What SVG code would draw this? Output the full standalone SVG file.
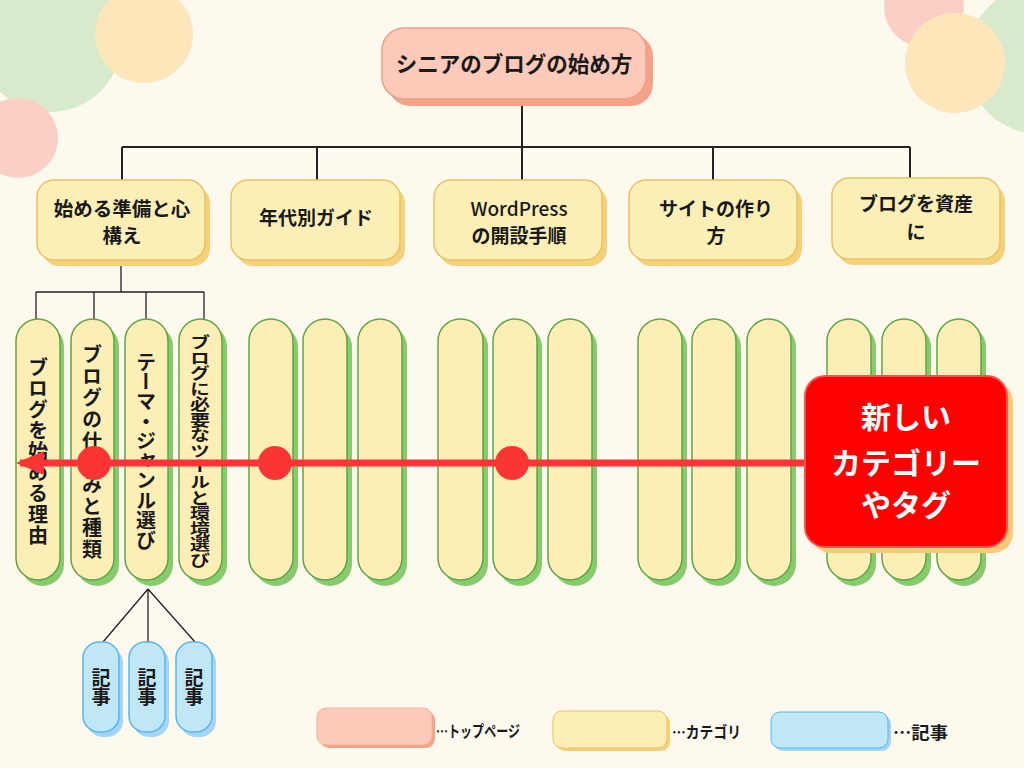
<svg xmlns="http://www.w3.org/2000/svg" width="1024" height="768" viewBox="0 0 1024 768">
<defs>
<style>
.t{font-family:"Noto Sans CJK JP","Noto Sans",sans-serif;font-weight:700;fill:#1a1a1a;}
.root{fill:#fdc9b8;stroke:#f0a088;stroke-width:1.5;}
.roots{fill:#f4a387;}
.cat{fill:#fcefb6;stroke:#e8c264;stroke-width:1.5;}
.cats{fill:#f6d17a;}
.pill{fill:#fdeeb6;stroke:#5ea645;stroke-width:1.5;}
.pills{fill:#86cc6c;}
.art{fill:#bfe7f5;stroke:#5ab4ee;stroke-width:1.5;}
.arts{fill:#a2d5f6;}
.ln{stroke:#222;stroke-width:2;fill:none;}
.ln2{stroke:#222;stroke-width:1.3;fill:none;}
.vt{writing-mode:vertical-rl;font-size:20px;}
</style>
<marker id="arr" markerUnits="userSpaceOnUse" markerWidth="30" markerHeight="30" refX="24" refY="15" orient="auto" viewBox="0 0 30 30">
<path d="M28,15 L0,3 L0,27 Z" fill="#fb3535"/>
</marker>
</defs>
<rect width="1024" height="768" fill="#fdf9ef"/>
<g id="decor" opacity="0.72">
<circle cx="50" cy="40" r="72" fill="#c9e6bf"/>
<circle cx="144" cy="34" r="49" fill="#fce0a6"/>
<circle cx="18" cy="138" r="40" fill="#fcc0b4"/>
<circle cx="924" cy="7" r="40" fill="#fcc0b4"/>
<circle cx="1040" cy="60" r="74" fill="#c9e6bf"/>
<circle cx="955" cy="63" r="50" fill="#fce0a6"/>
</g>

<g id="connectors">
<path class="ln" d="M522,99 V147 M122,147 H910 M122,147 V180 M317,147 V180 M522,147 V180 M713,147 V180 M910,147 V180"/>
<path class="ln2" d="M121,262 V292 M36,292 H204 M36,292 V320 M94,292 V320 M146,292 V320 M204,292 V320"/>
<path class="ln2" d="M148,589 L103,642 M148,589 L148,642 M148,589 L195,642"/>
</g>

<g id="root">
<rect class="roots" x="388" y="34" width="265" height="72" rx="22"/>
<rect class="root" x="382" y="28" width="264" height="71" rx="22"/>
<text class="t" x="514" y="72" font-size="21.5" text-anchor="middle">シニアのブログの始め方</text>
</g>

<g id="cat1">
<rect class="cats" x="42" y="186" width="168" height="80" rx="17"/>
<rect class="cat" x="37" y="180" width="168" height="80" rx="17"/>
<text class="t" x="122" y="216" font-size="19.5" text-anchor="middle">始める準備と心</text>
<text class="t" x="122" y="243" font-size="19.5" text-anchor="middle">構え</text>
</g>
<g id="cat2">
<rect class="cats" x="236" y="186" width="169" height="80" rx="17"/>
<rect class="cat" x="231" y="180" width="169" height="80" rx="17"/>
<text class="t" x="316" y="225" font-size="19" text-anchor="middle">年代別ガイド</text>
</g>
<g id="cat3">
<rect class="cats" x="439" y="186" width="168" height="80" rx="17"/>
<rect class="cat" x="434" y="180" width="168" height="80" rx="17"/>
<text class="t" x="519" y="216" font-size="19" text-anchor="middle" style="font-weight:500">WordPress</text>
<text class="t" x="519" y="243" font-size="19" text-anchor="middle">の開設手順</text>
</g>
<g id="cat4">
<rect class="cats" x="634" y="186" width="168" height="80" rx="17"/>
<rect class="cat" x="629" y="180" width="168" height="80" rx="17"/>
<text class="t" x="716" y="216" font-size="19" text-anchor="middle">サイトの作り</text>
<text class="t" x="716" y="243" font-size="19" text-anchor="middle">方</text>
</g>
<g id="cat5">
<rect class="cats" x="837" y="184" width="168" height="81" rx="17"/>
<rect class="cat" x="832" y="178" width="168" height="81" rx="17"/>
<text class="t" x="916" y="211" font-size="19" text-anchor="middle">ブログを資産</text>
<text class="t" x="916" y="239" font-size="19" text-anchor="middle">に</text>
</g>

<g id="pill1">
<rect class="pills" x="21" y="325" width="43" height="261" rx="21.5"/>
<rect class="pill" x="16" y="319" width="44" height="261" rx="22"/>
<text class="t vt" x="38" y="451" text-anchor="middle" textLength="188" lengthAdjust="spacing">ブログを始める理由</text>
</g>
<g id="pill2">
<rect class="pills" x="76" y="325" width="43" height="261" rx="21.5"/>
<rect class="pill" x="71" y="319" width="43" height="261" rx="21.5"/>
<text class="t vt" x="92" y="452" text-anchor="middle" textLength="215" lengthAdjust="spacing">ブログの仕組みと種類</text>
</g>
<g id="pill3">
<rect class="pills" x="130" y="325" width="43" height="261" rx="21.5"/>
<rect class="pill" x="125" y="319" width="43" height="261" rx="21.5"/>
<text class="t vt" x="146" y="451" text-anchor="middle" textLength="198" lengthAdjust="spacing">テーマ・ジャンル選び</text>
</g>
<g id="pill4">
<rect class="pills" x="184" y="325" width="43" height="261" rx="21.5"/>
<rect class="pill" x="179" y="319" width="43" height="261" rx="21.5"/>
<text class="t vt" x="200" y="451" text-anchor="middle" textLength="233" lengthAdjust="spacingAndGlyphs">ブログに必要なツールと環境選び</text>
</g>

<g id="pill5"><rect class="pills" x="254" y="325" width="44" height="261" rx="22"/><rect class="pill" x="249" y="319" width="44" height="261" rx="22"/></g>
<g id="pill6"><rect class="pills" x="308" y="325" width="44" height="261" rx="22"/><rect class="pill" x="303" y="319" width="44" height="261" rx="22"/></g>
<g id="pill7"><rect class="pills" x="363" y="325" width="44" height="261" rx="22"/><rect class="pill" x="358" y="319" width="44" height="261" rx="22"/></g>
<g id="pill8"><rect class="pills" x="443" y="325" width="45" height="261" rx="22"/><rect class="pill" x="438" y="319" width="45" height="261" rx="22"/></g>
<g id="pill9"><rect class="pills" x="498" y="325" width="44" height="261" rx="22"/><rect class="pill" x="493" y="319" width="44" height="261" rx="22"/></g>
<g id="pill10"><rect class="pills" x="553" y="325" width="44" height="261" rx="22"/><rect class="pill" x="548" y="319" width="44" height="261" rx="22"/></g>
<g id="pill11"><rect class="pills" x="643" y="325" width="44" height="261" rx="22"/><rect class="pill" x="638" y="319" width="44" height="261" rx="22"/></g>
<g id="pill12"><rect class="pills" x="697" y="325" width="44" height="261" rx="22"/><rect class="pill" x="692" y="319" width="44" height="261" rx="22"/></g>
<g id="pill13"><rect class="pills" x="752" y="325" width="44" height="261" rx="22"/><rect class="pill" x="747" y="319" width="44" height="261" rx="22"/></g>
<g id="pill14"><rect class="pills" x="832" y="325" width="44" height="261" rx="22"/><rect class="pill" x="827" y="319" width="44" height="261" rx="22"/></g>
<g id="pill15"><rect class="pills" x="887" y="325" width="44" height="261" rx="22"/><rect class="pill" x="882" y="319" width="44" height="261" rx="22"/></g>
<g id="pill16"><rect class="pills" x="942" y="325" width="44" height="261" rx="22"/><rect class="pill" x="937" y="319" width="44" height="261" rx="22"/></g>

<g id="art1">
<rect class="arts" x="87" y="647" width="36" height="90" rx="16"/>
<rect class="art" x="83" y="642" width="36" height="90" rx="16"/>
<text class="t vt" x="101" y="687" style="font-size:19px" text-anchor="middle">記事</text>
</g>
<g id="art2">
<rect class="arts" x="133" y="647" width="36" height="90" rx="16"/>
<rect class="art" x="129" y="642" width="36" height="90" rx="16"/>
<text class="t vt" x="147" y="687" style="font-size:19px" text-anchor="middle">記事</text>
</g>
<g id="art3">
<rect class="arts" x="180" y="647" width="36" height="90" rx="16"/>
<rect class="art" x="176" y="642" width="36" height="90" rx="16"/>
<text class="t vt" x="194" y="687" style="font-size:19px" text-anchor="middle">記事</text>
</g>

<g id="flow">
<line x1="808" y1="463" x2="20" y2="463" stroke="#fb3535" stroke-width="7" marker-end="url(#arr)"/>
<circle cx="94" cy="463" r="17" fill="#fb3535"/>
<circle cx="275" cy="463" r="17" fill="#fb3535"/>
<circle cx="512" cy="463" r="17" fill="#fb3535"/>
</g>

<g id="newnode">
<rect x="811" y="382" width="202" height="171" rx="20" fill="#fbc978"/>
<rect x="805" y="376" width="202" height="171" rx="20" fill="#ff0000" stroke="#ff5050" stroke-width="2"/>
<text x="906" y="428" font-family="Noto Sans CJK JP, sans-serif" font-weight="700" font-size="30" fill="#ffffff" text-anchor="middle">新しい</text>
<text x="906" y="474" font-family="Noto Sans CJK JP, sans-serif" font-weight="700" font-size="30" fill="#ffffff" text-anchor="middle">カテゴリー</text>
<text x="906" y="516" font-family="Noto Sans CJK JP, sans-serif" font-weight="700" font-size="30" fill="#ffffff" text-anchor="middle">やタグ</text>
</g>

<g id="legend">
<rect x="320" y="711" width="115" height="37" rx="9" fill="#f4a387"/>
<rect x="317" y="708" width="115" height="37" rx="9" fill="#fdc9b8" stroke="#f3b09a" stroke-width="1"/>
<text class="t" x="436" y="737" font-size="16" textLength="84" lengthAdjust="spacingAndGlyphs">…トップページ</text>
<rect x="556" y="714" width="114" height="37" rx="9" fill="#f6d17a"/>
<rect x="553" y="711" width="114" height="37" rx="9" fill="#fcefb6" stroke="#e8c264" stroke-width="1"/>
<text class="t" x="672" y="738" font-size="16" textLength="69" lengthAdjust="spacingAndGlyphs">…カテゴリ</text>
<rect x="774" y="715" width="117" height="36" rx="9" fill="#a2d5f6"/>
<rect x="771" y="712" width="117" height="36" rx="9" fill="#bfe7f5" stroke="#5ab4ee" stroke-width="1"/>
<text class="t" x="893" y="739" font-size="17" textLength="55" lengthAdjust="spacingAndGlyphs">…記事</text>
</g>
</svg>
